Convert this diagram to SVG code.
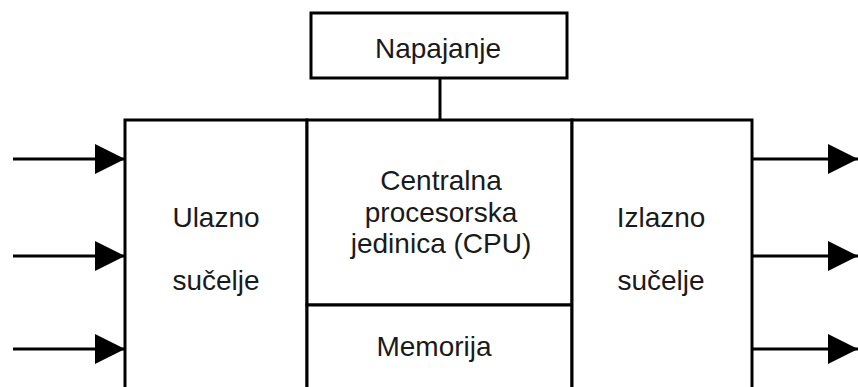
<svg xmlns="http://www.w3.org/2000/svg" width="858" height="387" viewBox="0 0 858 387">
<style>
.box{fill:#fff;stroke:#000;stroke-width:3}
.ln{stroke:#000;stroke-width:3;fill:none}
.t{font-family:"Liberation Sans",Arial,sans-serif;font-size:28px;fill:#1a1a1a;text-anchor:middle}
</style>
<defs>
<marker id="ah" markerUnits="userSpaceOnUse" markerWidth="30" markerHeight="30" viewBox="0 0 28 28" refX="28" refY="14" orient="auto">
<path d="M0,0 L28,14 L0,28 Z" fill="#000"/>
</marker>
</defs>
<rect width="858" height="387" fill="#fff"/>
<g id="connectors">
<line class="ln" x1="440" y1="78" x2="440" y2="120"/>
<line class="ln" x1="13" y1="159" x2="125" y2="159" marker-end="url(#ah)"/>
<line class="ln" x1="13" y1="256" x2="125" y2="256" marker-end="url(#ah)"/>
<line class="ln" x1="13" y1="349" x2="125" y2="349" marker-end="url(#ah)"/>
<line class="ln" x1="752" y1="159" x2="858" y2="159" marker-end="url(#ah)"/>
<line class="ln" x1="752" y1="256" x2="858" y2="256" marker-end="url(#ah)"/>
<line class="ln" x1="752" y1="349" x2="858" y2="349" marker-end="url(#ah)"/>
</g>
<g id="napajanje">
<rect class="box" x="311" y="13" width="256" height="65"/>
<text class="t" x="438" y="58">Napajanje</text>
</g>
<g id="ulazno">
<rect class="box" x="125" y="120" width="182" height="270"/>
<text class="t" x="216" y="227">Ulazno</text>
<text class="t" x="216" y="290">sučelje</text>
</g>
<g id="cpu">
<rect class="box" x="307" y="120" width="265" height="185"/>
<text class="t" x="441" y="190">Centralna</text>
<text class="t" x="441" y="222">procesorska</text>
<text class="t" x="441" y="253">jedinica (CPU)</text>
</g>
<g id="memorija">
<rect class="box" x="307" y="305" width="265" height="85"/>
<text class="t" x="434" y="356">Memorija</text>
</g>
<g id="izlazno">
<rect class="box" x="572" y="120" width="180" height="270"/>
<text class="t" x="661" y="227">Izlazno</text>
<text class="t" x="661" y="290">sučelje</text>
</g>
</svg>
